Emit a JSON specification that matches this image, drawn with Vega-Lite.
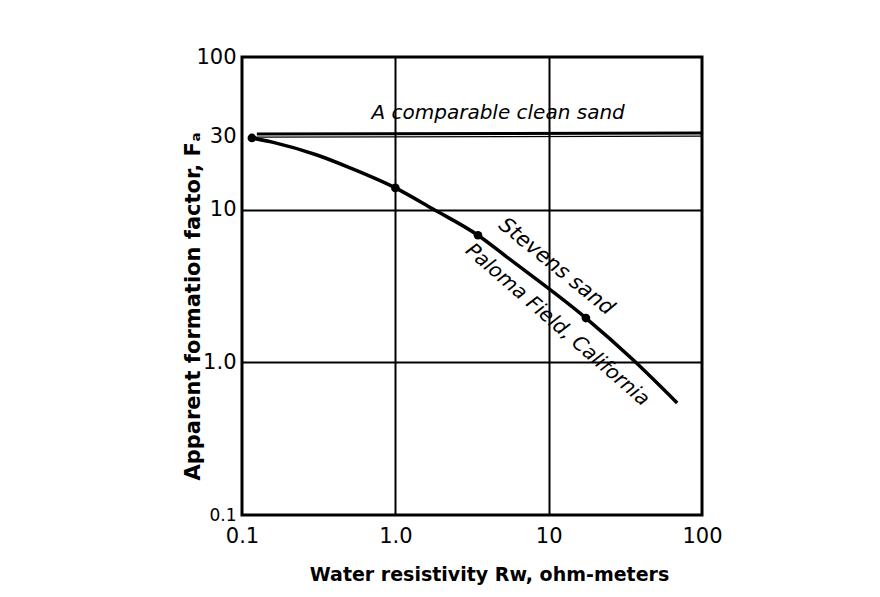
{
  "$schema": "https://vega.github.io/schema/vega-lite/v6.json",
  "width": 460,
  "height": 458,
  "autosize": {"type": "none"},
  "padding": {"left": 242, "top": 57, "right": 178, "bottom": 82},
  "background": "white",
  "config": {
    "view": {"stroke": "black", "strokeWidth": 3},
    "font": "DejaVu Sans"
  },
  "datasets": {
    "clean": [
      {"series": "main", "Rw": 0.125, "Fa": 31.3},
      {"series": "main", "Rw": 100, "Fa": 31.8},
      {"series": "under", "Rw": 0.115, "Fa": 29.9},
      {"series": "under", "Rw": 100, "Fa": 30.3}
    ],
    "curve": [
      {"Rw": 0.116, "Fa": 29.5},
      {"Rw": 0.16, "Fa": 27.6},
      {"Rw": 0.308, "Fa": 22.8},
      {"Rw": 0.506, "Fa": 18.8},
      {"Rw": 1.0, "Fa": 13.9},
      {"Rw": 1.76, "Fa": 10.1},
      {"Rw": 3.46, "Fa": 6.8},
      {"Rw": 5.43, "Fa": 4.83},
      {"Rw": 17.5, "Fa": 1.95},
      {"Rw": 35.5, "Fa": 1.04},
      {"Rw": 68.9, "Fa": 0.542}
    ],
    "points": [
      {"Rw": 0.116, "Fa": 29.5},
      {"Rw": 1.0, "Fa": 13.9},
      {"Rw": 3.46, "Fa": 6.8},
      {"Rw": 17.5, "Fa": 1.95}
    ],
    "lab1": [{"Rw": 4.68, "Fa": 43, "label": "A comparable clean sand"}],
    "lab2": [{"Rw": 11.2, "Fa": 4.22, "label": "Stevens sand"}],
    "lab3": [{"Rw": 11.4, "Fa": 1.76, "label": "Paloma Field, California"}]
  },
  "layer": [
    {
      "data": {"name": "clean"},
      "mark": {"type": "line", "color": "black", "clip": true},
      "encoding": {
        "x": {
          "field": "Rw", "type": "quantitative",
          "scale": {"type": "log", "domain": [0.1, 100], "nice": false},
          "axis": {
            "values": [0.1, 1, 10, 100],
            "labelExpr": "datum.value == 1 ? '1.0' : datum.value < 1 ? '0.1' : format(datum.value, 'd')",
            "labelFontSize": 21,
            "labelColor": "black",
            "labelPadding": 10,
            "labelFlush": false,
            "ticks": false,
            "domain": false,
            "grid": true,
            "gridColor": "black",
            "gridWidth": 2,
            "gridOpacity": {"condition": {"test": "datum.value == 0.1 || datum.value == 100", "value": 0}, "value": 1},
            "title": "Water resistivity Rw, ohm-meters",
            "titleFontSize": 19,
            "titleFontWeight": "bold",
            "titleColor": "black",
            "titleX": 247,
            "titleY": 65,
            "titleBaseline": "alphabetic",
            "titleAlign": "center"
          }
        },
        "y": {
          "field": "Fa", "type": "quantitative",
          "scale": {"type": "log", "domain": [0.1, 100], "nice": false},
          "axis": {
            "values": [0.1, 1, 10, 30, 100],
            "labelExpr": "datum.value == 1 ? '1.0' : datum.value < 1 ? '0.1' : format(datum.value, 'd')",
            "labelFontSize": {"condition": {"test": "datum.value < 1", "value": 17}, "value": 21},
            "labelColor": "black",
            "labelPadding": 6,
            "ticks": false,
            "domain": false,
            "grid": true,
            "gridColor": "black",
            "gridWidth": 2,
            "gridOpacity": {"condition": {"test": "datum.value == 0.1 || datum.value == 100 || datum.value == 30", "value": 0}, "value": 1},
            "title": "Apparent formation factor, Fₐ",
            "titleFontSize": 21,
            "titleFontWeight": "bold",
            "titleColor": "black",
            "titleX": -49,
            "titleY": 249,
            "titleAngle": -90,
            "titleBaseline": "middle",
            "titleAlign": "center"
          }
        },
        "detail": {"field": "series"},
        "strokeWidth": {"field": "series", "type": "nominal", "scale": {"domain": ["main", "under"], "range": [3, 1.3]}, "legend": null}
      }
    },
    {
      "data": {"name": "curve"},
      "mark": {"type": "line", "color": "black", "strokeWidth": 3.5, "interpolate": "monotone"},
      "encoding": {
        "x": {"field": "Rw", "type": "quantitative"},
        "y": {"field": "Fa", "type": "quantitative"}
      }
    },
    {
      "data": {"name": "points"},
      "mark": {"type": "point", "filled": true, "color": "black", "opacity": 1, "size": 75},
      "encoding": {
        "x": {"field": "Rw", "type": "quantitative"},
        "y": {"field": "Fa", "type": "quantitative"}
      }
    },
    {
      "data": {"name": "lab1"},
      "mark": {"type": "text", "fontSize": 20, "fontStyle": "italic", "color": "black", "align": "center", "baseline": "middle"},
      "encoding": {
        "x": {"field": "Rw", "type": "quantitative"},
        "y": {"field": "Fa", "type": "quantitative"},
        "text": {"field": "label"}
      }
    },
    {
      "data": {"name": "lab2"},
      "mark": {"type": "text", "fontSize": 21, "fontStyle": "italic", "color": "black", "align": "center", "baseline": "middle", "angle": 39},
      "encoding": {
        "x": {"field": "Rw", "type": "quantitative"},
        "y": {"field": "Fa", "type": "quantitative"},
        "text": {"field": "label"}
      }
    },
    {
      "data": {"name": "lab3"},
      "mark": {"type": "text", "fontSize": 20, "fontStyle": "italic", "color": "black", "align": "center", "baseline": "middle", "angle": 41},
      "encoding": {
        "x": {"field": "Rw", "type": "quantitative"},
        "y": {"field": "Fa", "type": "quantitative"},
        "text": {"field": "label"}
      }
    }
  ]
}
